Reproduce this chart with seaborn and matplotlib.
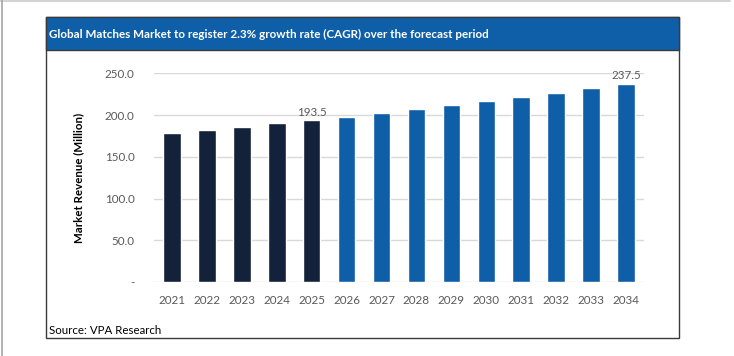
import pandas as pd
import matplotlib.pyplot as plt
import seaborn as sns
from matplotlib.patches import Rectangle
from matplotlib.lines import Line2D

sns.set_style("white")
plt.rcParams["font.family"] = ["Lato", "DejaVu Sans"]

years = ["2021", "2022", "2023", "2024", "2025", "2026", "2027",
         "2028", "2029", "2030", "2031", "2032", "2033", "2034"]
revenue = [178.6, 182.0, 186.0, 190.1, 193.5, 198.0, 202.5,
           207.1, 211.9, 216.8, 221.8, 226.9, 232.1, 237.5]
period = ["Actual"] * 5 + ["Forecast"] * 9
labelled = {"2025": "193.5", "2034": "237.5"}
yticks = [0, 50, 100, 150, 200, 250]
yticklabels = ["-", "50.0", "100.0", "150.0", "200.0", "250.0"]

df = pd.DataFrame({"Year": years, "Revenue": revenue, "Period": period})

W, H = 734, 356
fig = plt.figure(figsize=(W / 100, H / 100), dpi=100)

# outer page lines
fig.add_artist(Line2D([0, 730 / W], [1 - 0.8 / H, 1 - 0.8 / H], color="#d4d4d4", lw=1.5))
fig.add_artist(Line2D([2 / W, 2 / W], [0, 1], color="#a6a6a6", lw=1.2))

# chart frame and title bar
fig.add_artist(Rectangle((46 / W, 1 - 338 / H), (679 - 46) / W, (338 - 17) / H,
                         fill=False, edgecolor="#3a3a3a", lw=1.0))
fig.add_artist(Rectangle((46 / W, 1 - 50 / H), (679 - 46) / W, (50 - 17) / H,
                         facecolor="#0f5fa8", edgecolor="#3a3a3a", lw=1.0))
fig.text(49 / W, 1 - 34 / H,
         "Global Matches Market to register 2.3% growth rate (CAGR) over the forecast period",
         color="white", fontsize=8.35, fontweight="bold", va="center", ha="left")
fig.text(49 / W, 1 - 331 / H, "Source: VPA Research", color="black",
         fontsize=8.3, va="center", ha="left")

ax = fig.add_axes([154 / W, 1 - 282 / H, (644 - 154) / W, (282 - 73.3) / H])
sns.barplot(data=df, x="Year", y="Revenue", hue="Period",
            palette={"Actual": "#13213a", "Forecast": "#0f5ea8"},
            saturation=1, dodge=False, width=0.5, legend=False, ax=ax, zorder=3)

ax.set_ylim(0, 250)
ax.set_xlim(-0.52, len(years) - 0.48)
ax.set_yticks(yticks)
ax.set_yticklabels(yticklabels)
ax.yaxis.grid(True, color="#d9d9d9", lw=1.0, zorder=0)
ax.set_axisbelow(True)
for s in ax.spines.values():
    s.set_visible(False)
ax.tick_params(axis="y", length=0, pad=14, labelsize=8.4, labelcolor="#595959")
ax.tick_params(axis="x", length=0, pad=9, labelsize=8.4, labelcolor="#595959")
ax.set_xlabel("")
ax.set_ylabel("Market Revenue (Million)", fontsize=8.3, fontweight="bold", color="black")
ax.yaxis.set_label_coords(-(154 - 84) / (644 - 154), 0.5)

for i, (yr, v) in enumerate(zip(years, revenue)):
    if yr in labelled:
        ax.text(i, v + 3, labelled[yr], ha="center", va="bottom",
                fontsize=8.4, color="#595959", clip_on=False)

fig.savefig("out.png", dpi=100)
